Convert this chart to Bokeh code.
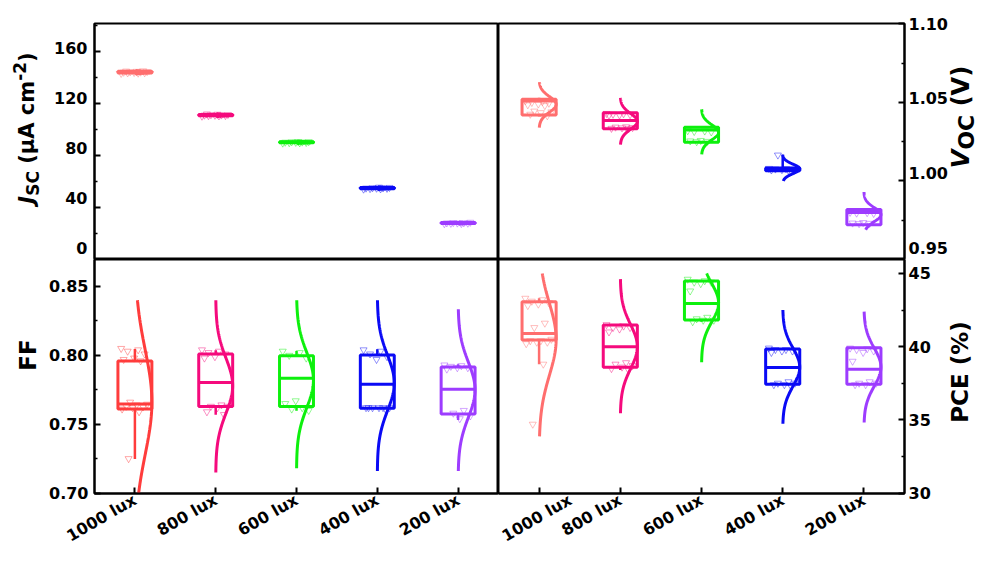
import math
import numpy as np
from bokeh.plotting import figure
from bokeh.layouts import row, column
from bokeh.models import Range1d, FixedTicker, LinearAxis, Div
from bokeh.embed import file_html
from bokeh.resources import INLINE

# ---------------- data ----------------
categories = ["1000 lux", "800 lux", "600 lux", "400 lux", "200 lux"]
positions = [1, 2, 3, 4, 5]

colors_main = ["#FF6E6E", "#F50A7D", "#0DF00D", "#0A0AF5", "#9D3CFF"]
colors_ff = ["#FF3C3C", "#F50A7D", "#0DF00D", "#0A0AF5", "#9D3CFF"]

# J_SC (uA cm-2)
jsc_q1 = [143.4, 110.5, 89.7, 54.4, 27.7]
jsc_med = [144.0, 111.0, 90.1, 54.9, 28.0]
jsc_q3 = [144.7, 111.6, 90.5, 55.4, 28.4]
jsc_wlo = [143.0, 110.1, 89.4, 54.0, 27.4]
jsc_whi = [145.2, 112.0, 90.8, 55.8, 28.7]
jsc_mean = [144.0, 111.0, 90.1, 54.9, 28.0]
jsc_sd = [0.6, 0.5, 0.4, 0.45, 0.35]
jsc_clo = [142.2, 109.5, 88.9, 53.6, 27.0]
jsc_chi = [145.8, 112.5, 91.3, 56.2, 29.0]
jsc_pts = [
    [143.1, 143.3, 143.5, 143.6, 143.8, 144.0, 144.1, 144.3, 144.5, 144.7, 144.9, 145.1],
    [110.2, 110.4, 110.6, 110.7, 110.9, 111.0, 111.1, 111.3, 111.5, 111.7, 111.9],
    [89.5, 89.7, 89.8, 90.0, 90.1, 90.2, 90.3, 90.5, 90.6, 90.7],
    [54.1, 54.3, 54.5, 54.7, 54.8, 54.9, 55.0, 55.2, 55.4, 55.6],
    [27.5, 27.6, 27.8, 27.9, 28.0, 28.1, 28.2, 28.4, 28.6],
]
jsc_ticks = [0, 40, 80, 120, 160]
jsc_tick_labels = ["0", "40", "80", "120", "160"]
jsc_minor = [20, 60, 100, 140, 180]

# V_OC (V)
voc_q1 = [1.0420, 1.0332, 1.0247, 1.0065, 0.9722]
voc_med = [1.0510, 1.0386, 1.0324, 1.0077, 0.9800]
voc_q3 = [1.0520, 1.0434, 1.0343, 1.0082, 0.9818]
voc_wlo = [1.0410, 1.0325, 1.0240, 1.0060, 0.9715]
voc_whi = [1.0530, 1.0440, 1.0345, 1.0165, 0.9820]
voc_mean = [1.0488, 1.0380, 1.0310, 1.0077, 0.9786]
voc_sd = [0.0050, 0.0050, 0.0048, 0.0030, 0.0045]
voc_clo = [1.0340, 1.0232, 1.0169, 1.0000, 0.9690]
voc_chi = [1.0630, 1.0530, 1.0456, 1.0170, 0.9930]
voc_pts = [
    [1.0510, 1.0505, 1.0500, 1.0495, 1.0490, 1.0485, 1.0480, 1.0445, 1.0440, 1.0435, 1.0425, 1.0415],
    [1.0430, 1.0428, 1.0425, 1.0422, 1.0420, 1.0418, 1.0345, 1.0343, 1.0340, 1.0338, 1.0335, 1.0333],
    [1.0320, 1.0318, 1.0315, 1.0312, 1.0258, 1.0255, 1.0252, 1.0250],
    [1.0080, 1.0078, 1.0076, 1.0074, 1.0072, 1.0070, 1.0068, 1.0165],
    [0.9800, 0.9798, 0.9795, 0.9793, 0.9735, 0.9732, 0.9730, 0.9728],
]
voc_ticks = [0.95, 1.00, 1.05, 1.10]
voc_tick_labels = ["0.95", "1.00", "1.05", "1.10"]
voc_minor = [0.975, 1.025, 1.075]

# FF
ff_q1 = [0.7611, 0.7629, 0.7629, 0.7616, 0.7575]
ff_med = [0.7647, 0.7803, 0.7834, 0.7790, 0.7754]
ff_q3 = [0.7959, 0.8010, 0.7998, 0.8003, 0.7916]
ff_wlo = [0.7247, 0.7568, 0.7597, 0.7610, 0.7531]
ff_whi = [0.8046, 0.8037, 0.8032, 0.8044, 0.7935]
ff_mean = [0.7660, 0.7780, 0.7820, 0.7800, 0.7750]
ff_sd = [0.038, 0.020, 0.020, 0.020, 0.020]
ff_clo = [0.690, 0.715, 0.718, 0.716, 0.716]
ff_chi = [0.840, 0.840, 0.840, 0.840, 0.8335]
ff_pts = [
    [0.805, 0.804, 0.803, 0.801, 0.798, 0.797, 0.796, 0.766, 0.7645, 0.764, 0.763, 0.7625, 0.762, 0.761, 0.759, 0.725],
    [0.804, 0.803, 0.802, 0.801, 0.799, 0.798, 0.764, 0.763, 0.763, 0.762, 0.759, 0.757],
    [0.803, 0.802, 0.800, 0.798, 0.767, 0.765, 0.762, 0.761, 0.760],
    [0.804, 0.803, 0.801, 0.799, 0.797, 0.762, 0.762, 0.762, 0.762, 0.762, 0.762, 0.761],
    [0.793, 0.7925, 0.792, 0.791, 0.791, 0.790, 0.760, 0.758, 0.756, 0.754],
]
ff_ticks = [0.70, 0.75, 0.80, 0.85]
ff_tick_labels = ["0.70", "0.75", "0.80", "0.85"]
ff_minor = [0.725, 0.775, 0.825]

# PCE (%)
pce_q1 = [40.45, 38.59, 41.82, 37.43, 37.43]
pce_med = [40.90, 40.00, 42.95, 38.57, 38.45]
pce_q3 = [43.07, 41.48, 44.48, 39.84, 39.93]
pce_wlo = [38.80, 38.41, 41.70, 37.40, 37.40]
pce_whi = [43.30, 41.57, 44.55, 39.90, 39.95]
pce_mean = [40.50, 40.00, 43.00, 38.60, 38.60]
pce_sd = [2.45, 1.50, 1.30, 1.30, 1.30]
pce_clo = [33.87, 35.45, 38.93, 34.73, 34.82]
pce_chi = [45.00, 44.61, 45.00, 42.50, 42.39]
pce_pts = [
    [43.3, 43.2, 43.1, 43.0, 42.9, 42.8, 41.6, 41.3, 40.5, 40.4, 40.4, 40.3, 40.3, 40.2, 38.8, 34.7],
    [41.5, 41.4, 41.3, 41.3, 41.2, 41.0, 38.9, 38.8, 38.7, 38.6, 38.5, 38.4],
    [44.6, 44.5, 44.4, 44.4, 44.3, 43.8, 42.0, 41.9, 41.8, 41.8, 41.7],
    [39.9, 39.8, 39.8, 39.7, 39.7, 39.6, 37.6, 37.5, 37.5, 37.4, 37.4, 37.3],
    [39.9, 39.85, 39.8, 39.7, 39.6, 39.0, 37.6, 37.5, 37.5, 37.4, 37.4],
]
pce_ticks = [30, 35, 40, 45]
pce_tick_labels = ["30", "35", "40", "45"]
pce_minor = [32.5, 37.5, 42.5]

# ---------------- styling ----------------
FONT = "DejaVu Sans"
TICK_SIZE = "16px"
HW = 0.21


def make_fig(width, height, yr, left, right, top, bottom, xloc, yloc):
    p = figure(width=width, height=height, x_range=Range1d(0.5, 5.5),
               y_range=Range1d(*yr), output_backend="svg", toolbar_location=None,
               min_border_left=left, min_border_right=right,
               min_border_top=top, min_border_bottom=bottom,
               x_axis_location=xloc, y_axis_location=yloc)
    p.grid.visible = False
    p.outline_line_color = "black"
    p.outline_line_width = 2
    p.outline_line_alpha = 1
    p.background_fill_color = "white"
    p.border_fill_color = "white"
    return p


def style_axis(ax, ticks, minor, labels, standoff=5):
    ax.ticker = FixedTicker(ticks=ticks, minor_ticks=minor)
    ax.major_label_overrides = {t: l for t, l in zip(ticks, labels)}
    ax.major_tick_in = 6
    ax.major_tick_out = 0
    ax.minor_tick_in = 3
    ax.minor_tick_out = 0
    ax.major_tick_line_width = 2
    ax.minor_tick_line_width = 1.5
    ax.axis_line_width = 2
    ax.major_label_text_font = FONT
    ax.major_label_text_font_size = TICK_SIZE
    ax.major_label_text_font_style = "bold"
    ax.major_label_text_color = "black"
    ax.major_label_standoff = standoff


def add_label_axis(p, name, side, ticks, labels, rng, standoff):
    """Axis carrying only the tick labels, nudged slightly upward as in the reference."""
    p.extra_y_ranges = {**p.extra_y_ranges, name: Range1d(*rng)}
    ax = LinearAxis(y_range_name=name,
                    ticker=FixedTicker(ticks=ticks, minor_ticks=[]),
                    major_label_overrides={t: l for t, l in zip(ticks, labels)},
                    major_tick_in=0, major_tick_out=0, minor_tick_in=0, minor_tick_out=0,
                    axis_line_color=None, major_tick_line_color=None,
                    minor_tick_line_color=None,
                    major_label_text_font=FONT, major_label_text_font_size=TICK_SIZE,
                    major_label_text_font_style="bold", major_label_text_color="black",
                    major_label_standoff=standoff)
    p.add_layout(ax, side)


def draw_panel(p, colors, q1, med, q3, wlo, whi, mean, sd, clo, chi, pts):
    for i, c in enumerate(positions):
        col = colors[i]
        p.segment([c, c], [q3[i], q1[i]], [c, c], [whi[i], wlo[i]],
                  line_color=col, line_width=2.5)
        p.quad(left=c - HW, right=c + HW, bottom=q1[i], top=q3[i],
               fill_color=None, line_color=col, line_width=3)
        p.segment(c - HW, med[i], c + HW, med[i], line_color=col, line_width=3)
        vals = pts[i]
        xs = [c + ((k * 0.618034) % 1.0 - 0.5) * 0.34 for k in range(len(vals))]
        p.scatter(xs, vals, marker="inverted_triangle", size=7, fill_color=None,
                  line_color=col, line_alpha=0.45, line_width=1)
        ys = np.linspace(clo[i], chi[i], 150)
        xc = c + HW * np.exp(-0.5 * ((ys - mean[i]) / sd[i]) ** 2)
        p.line(xc, ys, line_color=col, line_width=3)


def title_div(w, h, cx, cy, inner, size):
    html = (
        f'<div style="position:relative;width:{w}px;height:{h}px;overflow:visible;">'
        f'<div style="position:absolute;left:{cx}px;top:{cy}px;'
        f'transform:translate(-50%,-50%) rotate(-90deg);white-space:nowrap;'
        f"font-family:'DejaVu Sans';font-weight:bold;font-size:{size}px;line-height:1;"
        f'color:#000;">{inner}</div></div>'
    )
    return Div(text=html, width=w, height=h, margin=(0, 0, 0, 0))


def sub(t, size, dy):
    return f'<span style="font-size:{size}px;position:relative;top:{dy}px;">{t}</span>'


jsc_title = (f'<span style="font-style:italic">J</span>{sub("SC", 17, 5)}'
             f' (&mu;A cm{sub("-2", 17, -8)})')
voc_title = f'<span style="font-style:italic">V</span>{sub("OC", 22, 5)} (V)'
ff_title = "FF"
pce_title = "PCE (%)"

# ---------------- figures ----------------
LT, RT = 46, 42
W_L = 498 - LT
W_R = 992 - 498 - RT
p1 = make_fig(W_L, 259, (0, 181.5), 93 - LT, 0, 23, 0, None, "left")
p2 = make_fig(W_R, 259, (0.95, 1.1003), 0, 992 - RT - 906, 23, 0, None, "right")
p3 = make_fig(W_L, 307, (0.6997, 0.8696), 93 - LT, 0, 0, 73, "below", "left")
p4 = make_fig(W_R, 307, (29.97, 45.95), 0, 992 - RT - 906, 0, 73, "below", "right")

# ticks (labels of the upper panels are carried by a second, label-only axis)
style_axis(p1.yaxis[0], jsc_ticks, jsc_minor, [""] * len(jsc_ticks), standoff=0)
style_axis(p2.yaxis[0], voc_ticks, voc_minor, [""] * len(voc_ticks), standoff=0)
style_axis(p3.yaxis[0], ff_ticks, ff_minor, ff_tick_labels, standoff=6)
style_axis(p4.yaxis[0], pce_ticks, pce_minor, pce_tick_labels, standoff=4)
for p in (p3, p4):
    style_axis(p.xaxis[0], positions, [], categories)
    p.xaxis[0].major_label_orientation = math.pi / 6

add_label_axis(p1, "jsc_lbl", "left", jsc_ticks, jsc_tick_labels, (-9.6, 179.2), 7)
add_label_axis(p2, "voc_lbl", "right", voc_ticks, voc_tick_labels, (0.9420, 1.1003), 4)

draw_panel(p1, colors_main, jsc_q1, jsc_med, jsc_q3, jsc_wlo, jsc_whi, jsc_mean, jsc_sd, jsc_clo, jsc_chi, jsc_pts)
draw_panel(p2, colors_main, voc_q1, voc_med, voc_q3, voc_wlo, voc_whi, voc_mean, voc_sd, voc_clo, voc_chi, voc_pts)
draw_panel(p3, colors_ff, ff_q1, ff_med, ff_q3, ff_wlo, ff_whi, ff_mean, ff_sd, ff_clo, ff_chi, ff_pts)
draw_panel(p4, colors_main, pce_q1, pce_med, pce_q3, pce_wlo, pce_whi, pce_mean, pce_sd, pce_clo, pce_chi, pce_pts)

# axis-title columns (real HTML text, rotated)
d1 = title_div(LT, 259, 27, 128, jsc_title, 21)
d3 = title_div(LT, 307, 28, 355 - 259, ff_title, 23)
d2 = title_div(RT, 259, 11, 117, voc_title, 24)
d4 = title_div(RT, 307, 10, 372 - 259, pce_title, 23)

layout = row(column(d1, d3), column(p1, p3), column(p2, p4), column(d2, d4))

open("out.html", "w").write(file_html(layout, INLINE))
